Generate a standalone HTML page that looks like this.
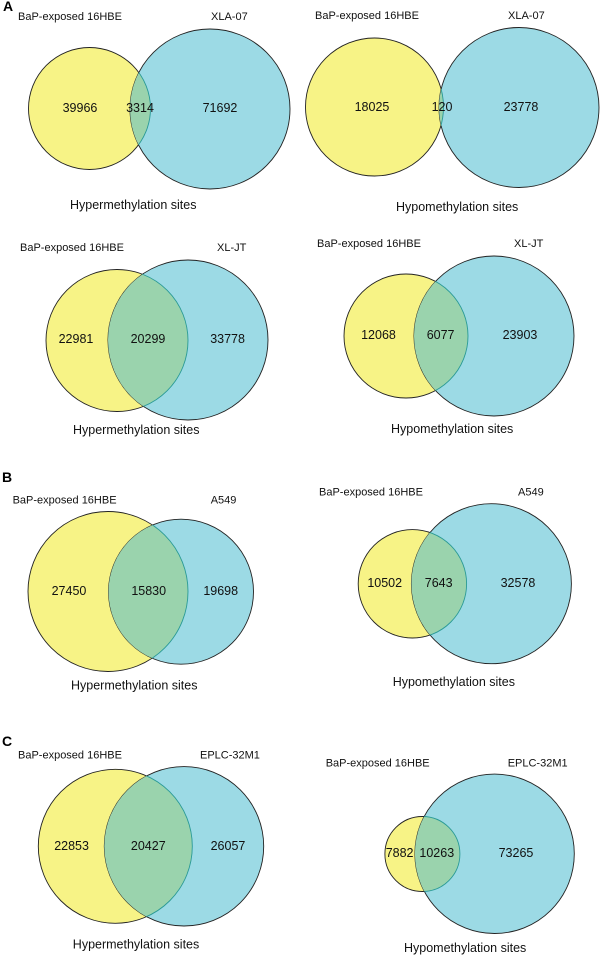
<!DOCTYPE html>
<html><head><meta charset="utf-8"><style>
html,body{margin:0;padding:0;background:#fff;}
svg{display:block;font-family:"Liberation Sans",Arial,sans-serif;}
</style></head><body>
<svg id="fig" width="600" height="967" viewBox="0 0 600 967" xmlns="http://www.w3.org/2000/svg">
<text x="3" y="11" font-size="14" font-weight="bold">A</text>
<text x="2" y="482" font-size="14" font-weight="bold">B</text>
<text x="2" y="746" font-size="14" font-weight="bold">C</text>
</svg>
<script>
// data: counts for each diagram
const leftCounts = [39966, 18025, 22981, 12068, 27450, 10502, 22853, 7882];
const overlapCounts = [3314, 120, 20299, 6077, 15830, 7643, 20427, 10263];
const rightCounts = [71692, 23778, 33778, 23903, 19698, 32578, 26057, 73265];
const leftNames = ["BaP-exposed 16HBE","BaP-exposed 16HBE","BaP-exposed 16HBE","BaP-exposed 16HBE","BaP-exposed 16HBE","BaP-exposed 16HBE","BaP-exposed 16HBE","BaP-exposed 16HBE"];
const rightNames = ["XLA-07","XLA-07","XL-JT","XL-JT","A549","A549","EPLC-32M1","EPLC-32M1"];
const titles = ["Hypermethylation sites","Hypomethylation sites","Hypermethylation sites","Hypomethylation sites","Hypermethylation sites","Hypomethylation sites","Hypermethylation sites","Hypomethylation sites"];

// layout (pixel geometry)
const layout = [
 {yc:[89.5,108.5,61], bc:[210,109,80], ll:[18,17], rl:[211,17], n:[80,140,220,108], t:[70,205]},
 {yc:[374.5,107,69], bc:[519,107.5,80], ll:[315,16], rl:[508,16], n:[372,442,521,107], t:[396,207]},
 {yc:[117,340.5,71], bc:[188,340,80], ll:[20,248], rl:[217,248], n:[76,148,227.6,339], t:[73,430]},
 {yc:[406,336,62], bc:[494,336,80], ll:[317,244], rl:[514,244], n:[378.5,440.6,520,335], t:[391,429]},
 {yc:[108,591.5,80], bc:[181,591.7,72.5], ll:[12.6,500.7], rl:[210.7,500.7], n:[69,148.7,220.7,591], t:[71,685.7]},
 {yc:[412.4,583.8,54.2], bc:[491.4,583.7,80], ll:[319,492.7], rl:[518,492.7], n:[384.7,438.7,518,583], t:[392.7,682]},
 {yc:[115.3,846.3,77], bc:[184,846.3,79.7], ll:[18,755.7], rl:[200,755.7], n:[71.6,148.3,228,846], t:[72.8,944.7]},
 {yc:[422.4,854,37.5], bc:[494.6,853.8,79.7], ll:[325.7,763.3], rl:[507.7,763.3], n:[399.6,436.8,516,853], t:[404,948]}
];
const NS="http://www.w3.org/2000/svg";
const svg=document.getElementById('fig');
const defs=document.createElementNS(NS,'defs');
svg.appendChild(defs);
function mk(tag,attrs,parent){const e=document.createElementNS(NS,tag);for(const k in attrs)e.setAttribute(k,attrs[k]);(parent||svg).appendChild(e);return e;}
function txt(x,y,s,size,anchor,parent){const t=mk('text',{x:x,y:y,'font-size':size,'text-anchor':anchor,'dominant-baseline':'central',fill:'#111'},parent);t.textContent=s;return t;}
for(let i=0;i<leftCounts.length;i++){
  const L=layout[i];
  const g=mk('g',{});
  
  
  const cp=mk('clipPath',{id:'clipb'+i},defs);
  mk('circle',{cx:L.bc[0],cy:L.bc[1],r:L.bc[2]},cp);
  const yc=mk('circle',{cx:L.yc[0],cy:L.yc[1],r:L.yc[2],fill:'#f7f386',stroke:'#222','stroke-width':0.9},g);
  
  
  const bc=mk('circle',{cx:L.bc[0],cy:L.bc[1],r:L.bc[2],fill:'#9cdae5',stroke:'#222','stroke-width':0.9},g);
  
  
  const ov=mk('circle',{cx:L.yc[0],cy:L.yc[1],r:L.yc[2],fill:'#9ad3ad',stroke:'#2a9a96','stroke-width':0.9,'clip-path':'url(#clipb'+i+')'},g);
  
  
  const a=txt(L.ll[0],L.ll[1],leftNames[i],11,'start',g);
  
  
  const b=txt(L.rl[0],L.rl[1],rightNames[i],11,'start',g);
  
  
  const n1=txt(L.n[0],L.n[3],String(leftCounts[i]),12.5,'middle',g);
  
  
  const n2=txt(L.n[1],L.n[3],String(overlapCounts[i]),12.5,'middle',g);
  
  
  const n3=txt(L.n[2],L.n[3],String(rightCounts[i]),12.5,'middle',g);
  
  
  const t=txt(L.t[0],L.t[1],titles[i],12.5,'start',g);
  
  
}
</script>
</body></html>
